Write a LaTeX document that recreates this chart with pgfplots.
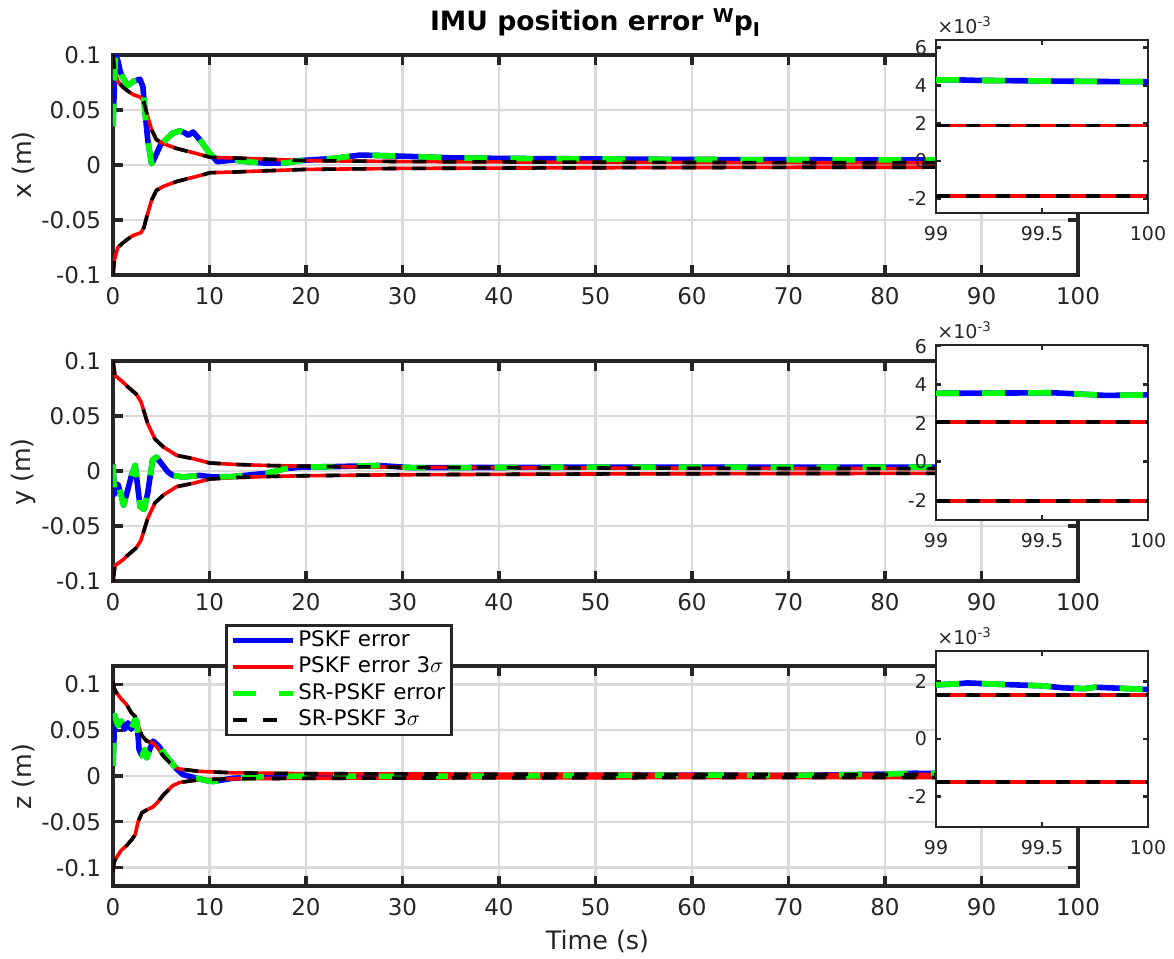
\documentclass[border=0pt]{standalone}
\usepackage{fontspec}
\setmainfont{DejaVu Sans}
\usepackage{pgfplots}
\usepackage{pgfplotstable}
\pgfplotsset{compat=1.18}
\definecolor{axgray}{RGB}{38,38,38}
\definecolor{gridgray}{RGB}{218,218,218}
\definecolor{mblue}{RGB}{0,0,255}
\definecolor{mred}{RGB}{255,0,0}
\definecolor{mgreen}{RGB}{0,255,0}

\pgfplotstableread{
t err
0 0.035
0.1 0.06
0.25 0.1
0.5 0.095
0.75 0.085
1.0 0.080
1.5 0.072
2.1 0.076
2.8 0.078
3.1 0.071
3.3 0.050
3.6 0.023
4.0 0.001
4.35 0.007
4.9 0.018
5.6 0.024
6.2 0.029
6.9 0.031
7.5 0.029
7.8 0.027
8.3 0.030
9.0 0.023
9.9 0.012
10.8 0.003
12.5 0.0045
14 0.003
16 0.0015
18 0.002
19.4 0.004
22.9 0.006
25.6 0.009
28 0.0085
30 0.008
35 0.0065
40 0.006
50 0.0055
60 0.005
70 0.0048
80 0.0046
90 0.0044
99 0.0043
100 0.0042
}\errx
\pgfplotstableread{
t up lo
0 0.100 -0.100
0.15 0.088 -0.086
0.5 0.076 -0.075
1.0 0.071 -0.071
1.5 0.0675 -0.0675
2.1 0.064 -0.064
2.9 0.0615 -0.0615
3.2 0.057 -0.057
3.5 0.047 -0.047
4.0 0.032 -0.032
4.5 0.023 -0.023
5.2 0.0195 -0.0195
6.6 0.015 -0.015
8.3 0.0112 -0.0112
10.1 0.007 -0.007
12.5 0.0064 -0.0064
16 0.0052 -0.0052
20 0.0040 -0.0040
30 0.0031 -0.0031
50 0.0025 -0.0025
70 0.0021 -0.0021
100 0.0019 -0.0019
}\sigx
\pgfplotstableread{
t err
0 0.006
0.15 -0.021
0.5 -0.012
0.85 -0.022
1.1 -0.031
1.5 -0.018
1.95 -0.003
2.3 0.005
2.8 -0.032
3.2 -0.035
3.6 -0.020
4.1 0.010
4.5 0.0125
5.0 0.007
5.7 -0.001
6.2 -0.004
7.25 -0.0055
9.0 -0.004
10.4 -0.0055
12.5 -0.005
16 -0.002
17.8 0.002
19.4 0.0035
23 0.004
27.5 0.005
31 0.003
40 0.0032
50 0.0035
60 0.0035
70 0.0034
80 0.0035
90 0.0036
100 0.0035
}\erry
\pgfplotstableread{
t up lo
0 0.100 -0.100
0.2 0.087 -0.086
1.0 0.081 -0.081
1.6 0.076 -0.076
2.4 0.070 -0.070
2.9 0.063 -0.063
3.6 0.043 -0.043
4.35 0.029 -0.029
5.2 0.022 -0.022
6.6 0.0142 -0.0142
8.3 0.0112 -0.0112
10 0.0073 -0.0073
12.5 0.006 -0.006
16 0.005 -0.005
20 0.0043 -0.0043
30 0.0034 -0.0034
50 0.0027 -0.0027
70 0.0023 -0.0023
100 0.0020 -0.0020
}\sigy
\pgfplotstableread{
t err
0 0.011
0.1 0.04
0.17 0.066
0.5 0.055
0.86 0.060
1.2 0.051
1.55 0.058
1.9 0.051
2.3 0.062
2.5 0.058
2.7 0.029
3.0 0.022
3.3 0.029
3.5 0.020
3.8 0.029
4.15 0.038
4.7 0.033
5.2 0.026
5.9 0.0167
6.6 0.0076
7.25 0.0015
8.3 -0.0015
9.7 -0.005
10.4 -0.006
12.4 -0.0025
16 -0.0005
20 0.0
30 -0.0005
40 0.0
50 0.0005
60 0.001
70 0.0005
80 0.002
83 0.003
90 0.002
100 0.0018
}\errz
\pgfplotstableread{
t up lo
0 0.104 -0.105
0.1 0.096 -0.094
0.35 0.091 -0.089
0.86 0.084 -0.081
1.4 0.078 -0.076
1.9 0.069 -0.070
2.3 0.065 -0.064
2.6 0.055 -0.050
3.0 0.044 -0.040
3.5 0.038 -0.037
4.1 0.0365 -0.034
4.6 0.031 -0.029
5.2 0.022 -0.021
6.2 0.011 -0.0105
6.9 0.0076 -0.007
9 0.005 -0.004
12.4 0.0035 -0.003
20 0.0025 -0.0025
40 0.002 -0.002
70 0.0017 -0.0017
100 0.0015 -0.0015
}\sigz

\pgfplotsset{
  pblue/.style={mblue, line width=2.8pt, line join=round},
  pred/.style={mred, line width=1.8pt, line join=round},
  pgreen/.style={mgreen, line width=2.8pt, line join=round, dash pattern=on 11.5pt off 11.5pt},
  pblack/.style={black, line width=1.8pt, line join=round, dash pattern=on 7pt off 8pt},
  mainax/.style={
    scale only axis, width=482.5pt, height=110pt,
    xmin=0, xmax=100, ymin=-0.1, ymax=0.1,
    xtick={0,10,...,100},
    ytick={-0.1,-0.05,0,0.05,0.1},
    yticklabels={-0.1,-0.05,0,0.05,0.1},
    grid=major,
    major grid style={line width=1.2pt, gridgray},
    axis line style={line width=1.6pt, axgray},
    tick style={line width=1.6pt, axgray},
    major tick length=5pt,
    tick align=inside,
    tick label style={font=\fontsize{11.5}{13}\selectfont, text=axgray},
    /pgf/number format/assume math mode=true,
    xticklabel style={yshift=-2.5pt},
    yticklabel style={xshift=-2.5pt},
    anchor=south west,
  },
  insetax/.style={
    scale only axis, width=106pt,
    xmin=99, xmax=100,
    xtick={99,99.5,100}, xticklabels={99,99.5,100},
    axis background/.style={fill=white},
    axis line style={line width=1.4pt, axgray},
    tick style={line width=1.2pt, axgray},
    major tick length=2.5pt,
    tick align=inside,
    tick label style={font=\fontsize{9.5}{11}\selectfont, text=axgray},
    xticklabel style={yshift=-3pt},
    yticklabel style={xshift=-1pt},
    anchor=south west,
  },
}

\begin{document}
\begin{tikzpicture}
\useasboundingbox (0,0) rectangle (587pt,479.5pt);

% ---------- panel x ----------
\begin{axis}[mainax, at={(56.5pt,342pt)}]
\addplot[pblue] table[x=t,y=err] {\errx};
\addplot[pred] table[x=t,y=up] {\sigx};
\addplot[pred] table[x=t,y=lo] {\sigx};
\addplot[pgreen] table[x=t,y=err] {\errx};
\addplot[pblack] table[x=t,y=up] {\sigx};
\addplot[pblack] table[x=t,y=lo] {\sigx};
\end{axis}
\begin{axis}[insetax, at={(468pt,373pt)}, height=86.5pt, ymin=-2.76, ymax=6.4,
  ytick={-2,0,2,4,6}, yticklabels={-2,0,2,4,6}]
\addplot[pblue] coordinates {(99,4.28) (99.1,4.29) (99.2,4.26) (99.4,4.24) (99.6,4.22) (99.8,4.2) (100,4.19)};
\addplot[pred] coordinates {(99,1.88) (100,1.88)};
\addplot[pred] coordinates {(99,-1.86) (100,-1.86)};
\addplot[pgreen] coordinates {(99,4.28) (99.1,4.29) (99.2,4.26) (99.4,4.24) (99.6,4.22) (99.8,4.2) (100,4.19)};
\addplot[pblack] coordinates {(99,1.88) (100,1.88)};
\addplot[pblack] coordinates {(99,-1.86) (100,-1.86)};
\end{axis}

% ---------- panel y ----------
\begin{axis}[mainax, at={(56.5pt,189pt)}]
\addplot[pblue] table[x=t,y=err] {\erry};
\addplot[pred] table[x=t,y=up] {\sigy};
\addplot[pred] table[x=t,y=lo] {\sigy};
\addplot[pgreen] table[x=t,y=err] {\erry};
\addplot[pblack] table[x=t,y=up] {\sigy};
\addplot[pblack] table[x=t,y=lo] {\sigy};
\end{axis}
\begin{axis}[insetax, at={(468pt,219.5pt)}, height=87.5pt, ymin=-3.03, ymax=6.06,
  ytick={-2,0,2,4,6}, yticklabels={-2,0,2,4,6}]
\addplot[pblue] coordinates {(99,3.55) (99.2,3.56) (99.4,3.57) (99.55,3.58) (99.7,3.5) (99.8,3.44) (100,3.47)};
\addplot[pred] coordinates {(99,2.05) (100,2.05)};
\addplot[pred] coordinates {(99,-2.05) (100,-2.05)};
\addplot[pgreen] coordinates {(99,3.55) (99.2,3.56) (99.4,3.57) (99.55,3.58) (99.7,3.5) (99.8,3.44) (100,3.47)};
\addplot[pblack] coordinates {(99,2.05) (100,2.05)};
\addplot[pblack] coordinates {(99,-2.05) (100,-2.05)};
\end{axis}

% ---------- panel z ----------
\begin{axis}[mainax, at={(56.5pt,36.5pt)}, ymin=-0.12, ymax=0.12,
  legend cell align=left,
  legend image code/.code={\draw[#1] (0pt,0pt) -- (30pt,0pt);},
  legend style={at={(0.116,1.191)}, anchor=north west, draw=axgray, line width=1.4pt,
    fill=white, font=\fontsize{10.7}{13}\selectfont, inner xsep=2pt, inner ysep=1pt,
    nodes={inner sep=1.2pt, text height=8.3pt, text depth=2.5pt}}]
\addplot[pblue] table[x=t,y=err] {\errz};
\addlegendentry{PSKF error}
\addplot[pred] table[x=t,y=up] {\sigz};
\addlegendentry{PSKF error 3$\sigma$}
\addplot[pred, forget plot] table[x=t,y=lo] {\sigz};
\addplot[pgreen] table[x=t,y=err] {\errz};
\addlegendentry{SR-PSKF error}
\addplot[pblack] table[x=t,y=up] {\sigz};
\addlegendentry{SR-PSKF 3$\sigma$}
\addplot[pblack, forget plot] table[x=t,y=lo] {\sigz};
\end{axis}
\begin{axis}[insetax, at={(468pt,66pt)}, height=88pt, ymin=-3.06, ymax=3.06,
  ytick={-2,0,2}, yticklabels={-2,0,2}]
\addplot[pblue] coordinates {(99,1.88) (99.1,1.92) (99.15,1.95) (99.3,1.9) (99.5,1.85) (99.6,1.78) (99.7,1.75) (99.75,1.8) (99.85,1.77) (100,1.72)};
\addplot[pred] coordinates {(99,1.52) (100,1.52)};
\addplot[pred] coordinates {(99,-1.5) (100,-1.5)};
\addplot[pgreen] coordinates {(99,1.88) (99.1,1.92) (99.15,1.95) (99.3,1.9) (99.5,1.85) (99.6,1.78) (99.7,1.75) (99.75,1.8) (99.85,1.77) (100,1.72)};
\addplot[pblack] coordinates {(99,1.52) (100,1.52)};
\addplot[pblack] coordinates {(99,-1.5) (100,-1.5)};
\end{axis}

% ---------- texts ----------
\node[anchor=base, font=\bfseries\fontsize{13.3}{16}\selectfont] at (297.5pt,464pt)
  {IMU position error \raisebox{0.55ex}{\fontsize{9.5}{11}\selectfont W}p\raisebox{-0.35ex}{\fontsize{9.5}{11}\selectfont I}};
\node[rotate=90, font=\fontsize{12.7}{15}\selectfont, text=axgray] at (12pt,397pt) {x (m)};
\node[rotate=90, font=\fontsize{12.7}{15}\selectfont, text=axgray] at (12pt,243.5pt) {y (m)};
\node[rotate=90, font=\fontsize{12.7}{15}\selectfont, text=axgray] at (12pt,91pt) {z (m)};
\node[anchor=base, font=\fontsize{12.7}{15}\selectfont, text=axgray] at (298.75pt,4.5pt) {Time (s)};
\node[anchor=base west, inner sep=0pt, font=\fontsize{9.5}{11}\selectfont, text=axgray] at (468.5pt,462.5pt) {×10\textsuperscript{-3}};
\node[anchor=base west, inner sep=0pt, font=\fontsize{9.5}{11}\selectfont, text=axgray] at (468.5pt,310pt) {×10\textsuperscript{-3}};
\node[anchor=base west, inner sep=0pt, font=\fontsize{9.5}{11}\selectfont, text=axgray] at (468.5pt,157pt) {×10\textsuperscript{-3}};
\end{tikzpicture}
\end{document}
